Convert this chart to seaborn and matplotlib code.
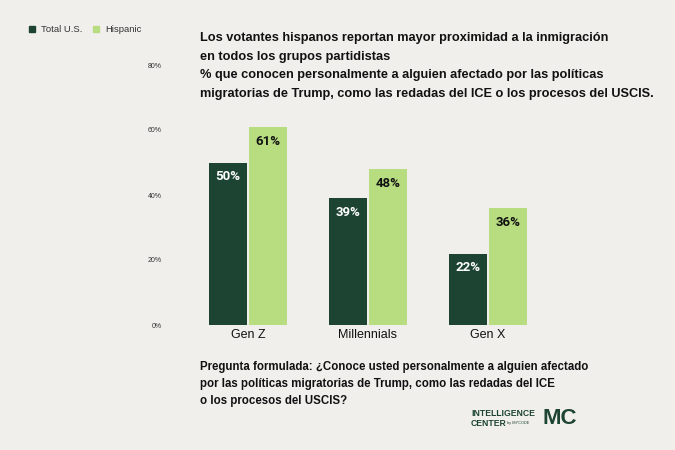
import matplotlib
matplotlib.use("Agg")
import matplotlib.pyplot as plt
import pandas as pd
import seaborn as sns
from matplotlib.patches import Rectangle

categories = ["Gen Z", "Millennials", "Gen X"]
series_names = ["Total U.S.", "Hispanic"]
total_us = [50, 39, 22]
hispanic = [61, 48, 36]
y_ticks = [0, 20, 40, 60, 80]
y_tick_labels = ["0%", "20%", "40%", "60%", "80%"]

title_lines = (
    "Los votantes hispanos reportan mayor proximidad a la inmigración\n"
    "en todos los grupos partidistas\n"
    "% que conocen personalmente a alguien afectado por las políticas\n"
    "migratorias de Trump, como las redadas del ICE o los procesos del USCIS."
)
question = (
    "Pregunta formulada: ¿Conoce usted personalmente a alguien afectado\n"
    "por las políticas migratorias de Trump, como las redadas del ICE\n"
    "o los procesos del USCIS?"
)

BG = "#f1efec"
DARK = "#1d4433"
LIGHT = "#b8dc80"
TXT = "#111111"

sns.set_theme(style="white")
plt.rcParams["font.family"] = ["Liberation Sans", "DejaVu Sans"]

df = pd.DataFrame({
    "category": categories * 2,
    "series": [series_names[0]] * 3 + [series_names[1]] * 3,
    "value": total_us + hispanic,
})

fig = plt.figure(figsize=(6.75, 4.5), dpi=100, facecolor=BG)
ax = fig.add_axes([170 / 675, 125 / 450, 390 / 675, 260 / 450])
ax.set_facecolor(BG)

sns.barplot(
    data=df, x="category", y="value", hue="series",
    palette=[DARK, LIGHT], width=0.66, gap=0.03, ax=ax,
    legend=False, errorbar=None, saturation=1, linewidth=0,
)

for container, color in zip(ax.containers, ["white", TXT]):
    labels = [f"{v:.0f}%" for v in container.datavalues]
    ax.bar_label(container, labels=labels, label_type="edge", padding=-15,
                 color=color, fontsize=9.5, fontweight="bold",
                 family=["Roboto", "DejaVu Sans"])

ax.set_xlim(-0.65, 2.6)
ax.set_ylim(0, 80)
ax.set_yticks(y_ticks)
ax.set_yticklabels(y_tick_labels, fontsize=5, color="#333333")
ax.tick_params(axis="y", length=0, pad=6)
ax.tick_params(axis="x", length=0, pad=3, labelsize=9, labelcolor=TXT)
ax.set_xlabel("")
ax.set_ylabel("")
sns.despine(ax=ax, left=True, bottom=True)

# legend at top-left
for x0, label, color in [(29, series_names[0], DARK), (93, series_names[1], LIGHT)]:
    fig.patches.append(Rectangle((x0 / 675, 1 - 32 / 450), 6 / 675, 6 / 450,
                                 transform=fig.transFigure, color=color))
    fig.text((x0 + 12) / 675, 1 - 29 / 450, label, fontsize=6.8,
             color="#333333", va="center", ha="left")

fig.text(200 / 675, 1 - 32.5 / 450, title_lines, fontsize=9.15, fontweight="bold",
         color=TXT, va="top", ha="left", linespacing=1.71)

fig.text(200 / 675, 1 - 361 / 450, question, fontsize=8.3, fontweight="bold",
         color=TXT, va="top", ha="left", linespacing=1.56)

# logo
fig.text(471 / 675, 1 - 414 / 450, "INTELLIGENCE", fontsize=6.2, fontweight="bold",
         color=DARK, va="center", ha="left")
fig.text(471 / 675, 1 - 423 / 450, "CENTER", fontsize=6.2, fontweight="bold",
         color=DARK, va="center", ha="left")
fig.text(507 / 675, 1 - 423 / 450, "by MYCODE", fontsize=2.8,
         color=DARK, va="center", ha="left")
fig.text(543 / 675, 1 - 418 / 450, "MC", fontsize=16, fontweight="bold",
         color=DARK, va="center", ha="left")

fig.savefig("out.png", dpi=100, facecolor=BG)
